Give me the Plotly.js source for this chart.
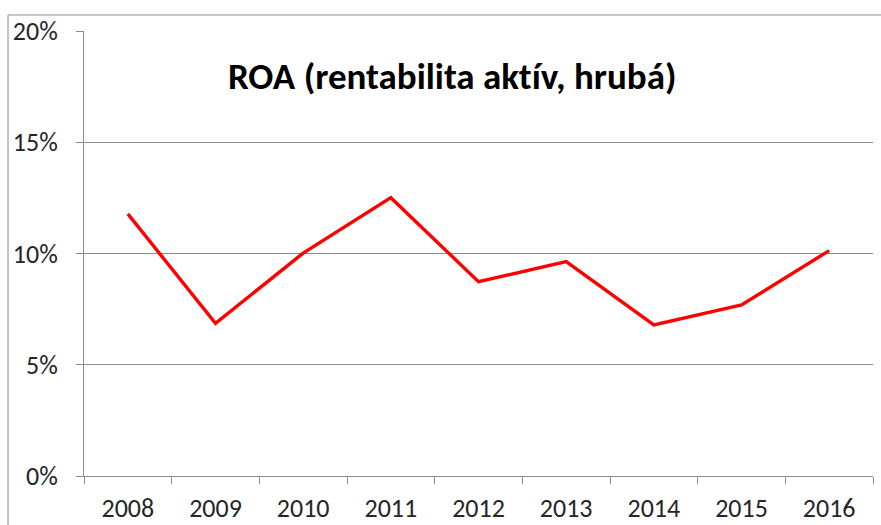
<!DOCTYPE html>
<html>
<head>
<meta charset="utf-8">
<script src="https://cdn.plot.ly/plotly-3.0.1.min.js"></script>
<style>html,body{margin:0;padding:0;background:#fff;}#chart{width:881px;height:525px;}
#chart text{font-variant-ligatures:none;font-feature-settings:"liga" 0,"clig" 0;}</style>
</head>
<body>
<div id="chart"></div>
<script>
const years = ['2008','2009','2010','2011','2012','2013','2014','2015','2016'];
const roa = [0.1178, 0.0686, 0.1002, 0.1251, 0.0873, 0.0964, 0.0679, 0.0769, 0.1013];
const yTicks = [0, 0.05, 0.10, 0.15, 0.20];
const yTickLabels = ['0%', '5%', '10%', '15%', '20%'];
const chartTitle = 'ROA (rentabilita aktív, hrubá)';

const FONT = 'Carlito, Lato, "Open Sans", sans-serif';
const GRID = '#8c8c8c';

const trace = {
  x: years, y: roa, type: 'scatter', mode: 'lines',
  line: {color: '#ff0000', width: 3.4},
  hoverinfo: 'skip'
};

const layout = {
  width: 881, height: 525,
  margin: {l: 84, r: 8, t: 31, b: 49},
  paper_bgcolor: '#fff', plot_bgcolor: '#fff',
  showlegend: false,
  font: {family: FONT, color: '#333'},
  xaxis: {
    type: 'category', tickson: 'boundaries', range: [-0.5, 8.5],
    showgrid: false, showline: true, linecolor: GRID, linewidth: 1,
    ticks: 'outside', ticklen: 7, tickcolor: GRID, tickwidth: 1,
    tickfont: {size: 26, color: '#262626', family: FONT},
    ticklabelstandoff: 9,
    fixedrange: true
  },
  yaxis: {
    range: [0, 0.2], tickvals: yTicks, ticktext: yTickLabels,
    showgrid: true, gridcolor: GRID, gridwidth: 1,
    showline: true, linecolor: GRID, linewidth: 1,
    ticks: 'outside', ticklen: 7, tickcolor: GRID, tickwidth: 1,
    tickfont: {size: 26, color: '#262626', family: FONT},
    ticklabelstandoff: 13,
    zeroline: false, fixedrange: true
  },
  annotations: [{
    text: '<b>' + chartTitle + '</b>',
    xref: 'paper', yref: 'paper', x: 0.467, y: 0.897,
    xanchor: 'center', yanchor: 'middle', showarrow: false,
    font: {size: 37, color: '#000', family: FONT}
  }],
  shapes: [{
    type: 'rect', xref: 'paper', yref: 'paper',
    x0: -0.0963, x1: 1.05, y0: -0.3, y1: 1.036,
    line: {color: GRID, width: 1}, fillcolor: 'rgba(0,0,0,0)', layer: 'below'
  }]
};

Plotly.newPlot('chart', [trace], layout, {staticPlot: true, displayModeBar: false});
</script>
</body>
</html>
